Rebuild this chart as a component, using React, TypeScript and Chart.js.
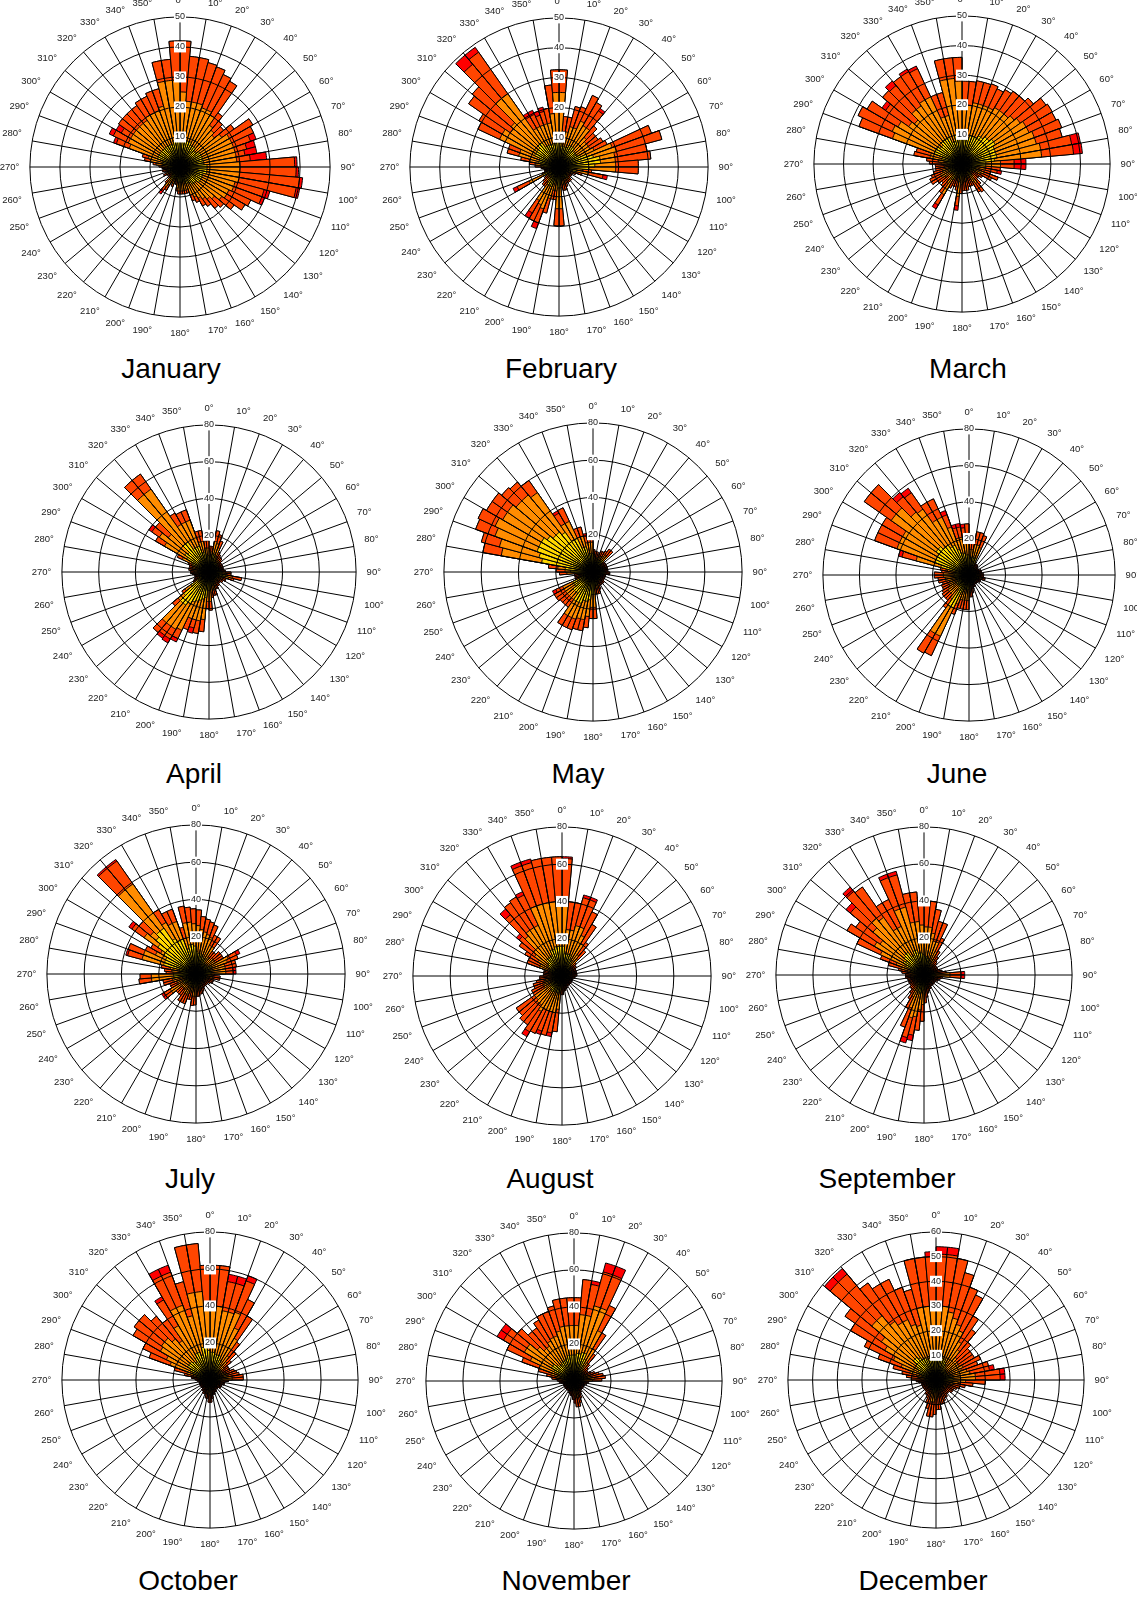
import React, { useEffect, useRef } from "react";
import { Chart, registerables } from "chart.js";

Chart.register(...registerables);

// Direction bins: each bin starts at the listed bearing and spans 5 degrees
const binStarts = [
  0, 5, 10, 15, 20, 25, 30, 35, 40, 45, 50, 55,
  60, 65, 70, 75, 80, 85, 90, 95, 100, 105, 110, 115,
  120, 125, 130, 135, 140, 145, 150, 155, 160, 165, 170, 175,
  180, 185, 190, 195, 200, 205, 210, 215, 220, 225, 230, 235,
  240, 245, 250, 255, 260, 265, 270, 275, 280, 285, 290, 295,
  300, 305, 310, 315, 320, 325, 330, 335, 340, 345, 350, 355,
];
const directionLabels = binStarts.map((d) => (d % 10 === 0 ? `${d}°` : ""));

const monthNames = [
  "January", "February", "March", "April", "May", "June",
  "July", "August", "September", "October", "November", "December",
];
const radialMax = [50, 50, 50, 80, 80, 80, 80, 80, 80, 80, 80, 60];
const radialStep = [10, 10, 10, 20, 20, 20, 20, 20, 20, 20, 20, 10];

// ---- January ----
const janTotal = [42,37,37,36,35.5,34,33,22,20,19,22,28, 27,27,26,26,29,39,39.5,41,40.5,31,30,26, 25,22,19,18,16,15,13,12,9,9,9,9, 9,8,6,5,7,6,9,11,7,5,4,5, 6,4,5,6,5,6,7,9,12,13,23.6,26, 24.6,25,25,25,25,26,26,27,27,36,36,42];
const janOrange = [25,22,22,22,21,21,20,17,16,15,17,19, 19,19,19,19,19,20,20,20,20,19,19,18, 18,17,15,14,13,12,11,10,8,8,8,8, 8,7,5,4,6,5,7,8,6,4,3,4, 5,3,4,5,4,5,6,8,10,11,18,19, 19,19,19,19,19,20,20,20,21,29,29,29];
const janYellow = [9,9,9,9,9,8,8,8,7,7,8,8, 8,8,8,8,8,9,9,9,9,8,8,8, 8,8,7,7,7,6,6,6,5,5,5,5, 5,5,4,3,4,4,5,5,4,3,3,3, 4,3,3,4,3,4,4,5,6,6,8,8, 8,8,8,8,8,8,8,8,8,9,9,9];
const janRed = [0,0,0,0,0,0,0,0,0,0,0,0, 0,2,3,4,5.5,0.8,0.8,1,1.2,2,1,0, 0,0,0,0,0,0,0,0,0,0,0,0, 0,0,0,0,0,0,0,1.5,0,0,0,0, 0,0,0,0,0,0,0,0,0,0,1,1.5, 2,0,0,0,0,0,0,0,0,0,0,0];

// ---- February ----
const febTotal = [32.6,17,17,21,21.5,26.5,25,24,18,16,16,17, 17.8,33,35.7,30,30.9,26.6,26.6,11,16.5,8,6,5, 5,5,5,6,6,6,6,7,8,8,7,19.7, 19.7,11,11,16,22,20,19.8,8,8,7,6,5, 17,6,5,5,5,6,8,10,13,18,18,30, 31,37,38,49,49,21,21,20,20.8,20,27.6,32.6];
const febOrange = [25,12,12,14,14,17,16,16,13,12,12,12, 13,19,20,19,19,19,19,8,10,6,5,4, 4,4,4,5,5,5,5,5,6,6,5,14, 14,8,8,11,15,14,13,6,6,5,5,4, 11,5,4,4,4,5,6,8,10,14,14,22, 22,20,21,30,30,15,15,15,15,15,18,25];
const febYellow = [8,7,7,7,7,8,8,8,7,7,7,7, 8,10,12,14,14,12,10,5,6,4,4,3, 3,3,3,4,4,4,4,4,4,4,4,7, 7,5,5,6,7,7,7,4,4,4,4,3, 6,4,3,3,3,4,5,6,7,7,7,9, 9,9,9,10,10,8,8,8,8,8,8,9];
const febRed = [0,0,0,0,0,0,0,1,0,0,0,0, 0,0,0,0,0,0,0,0,1.5,0,0,0, 0,0,0,0,0,0,0,0,0,0,0,0, 0,0,0,0,2,0,2,0,0,0,0,0, 1.5,0,0,0,0,0,0,0,0,0,0,0, 0,0,0,4,2,1.5,1.5,1.5,1.5,0,0,0];

// ---- March ----
const marTotal = [28,28,28.5,28.5,28.8,28,29,30,30,31.5,34.6,35.2, 35,35.8,35,40.6,40.8,21.6,21.6,13,13.6,10,13,11, 8,7,7,9,11.5,11,8,8,8,9,9,9, 10,15.7,9,8,8,9,17.5,12,10,9,10,12, 12,11,10,9,9,9,11,12,16.5,16,37,38.7, 37,33,35,36.6,36,37,36.5,25,25,36,36,36];
const marOrange = [20,20,21,21,21,21,22,22,22,23,24,25, 25,26,26,27,27,13,13,8,8,6,8,7, 5,4,4,6,8,7,5,5,5,6,6,6, 7,11,6,5,5,6,12,8,7,6,7,8, 8,7,7,6,6,6,7,8,11,11,25,26, 25,22,21,24,24,25,25,17,17,29,29,28];
const marYellow = [9,9,9,10,10,10,11,11,12,12,13,13, 12,12,12,12,11,8,8,5,5,4,5,4, 3,3,3,4,5,4,3,3,3,4,4,4, 4,6,4,3,3,4,6,4,4,4,4,5, 5,5,4,4,4,4,5,5,7,7,10,10, 10,9,9,10,10,10,10,8,8,10,10,9];
const marRed = [0,0,0,0,0,0,0,0,0,0,0,0, 0,0,0,3,3,4,4,0,1.5,0,0,0, 0,0,0,0,0,0,0,0,0,0,0,0, 0,1.5,0,0,0,0,1.5,0,0,0,0,0, 0,0,0,0,0,0,0,0,0,0,0,0, 0,1.5,0,2,0,1,1,0,0,0,0,0];

// ---- April ----
const aprTotal = [14,14,22.8,21,18,12,11,10,10,9,8,8, 8,8,8,8,8,9,12,12,18,14,10,10, 9,9,8,8,9,9,10,10,13,13,14,20.8, 20,32.6,34,34.5,33.4,42,44.6,44,43,26,18,10, 9,8,8,8,9,10,10,11,11,11,12,19, 33.6,40,38,65,65,37,36,36,23,23,17,17];
const aprOrange = [11,11,17,16,14,9,8,8,8,7,6,6, 6,6,6,6,6,7,9,9,13,11,8,8, 7,7,6,6,7,7,8,8,10,10,11,16, 16,26,27,27,27,35,36,36,36,22,16,8, 7,6,6,6,7,8,8,9,9,9,10,16, 28,33,29,55,55,30,30,30,17,17,13,13];
const aprYellow = [8,8,10,10,9,7,6,6,6,5,5,5, 5,5,5,5,5,5,7,7,9,8,6,6, 5,5,5,5,5,5,6,6,7,7,8,10, 10,14,15,16,17,18,20,22,22,18,12,6, 5,5,5,5,5,6,6,6,6,6,7,10, 14,16,15,20,20,15,15,15,11,11,9,9];
const aprRed = [0,0,0,0,0,0,0,0,0,0,0,0, 0,0,0,0,0,0,0,0,0,0,0,0, 0,0,0,0,0,0,0,0,0,0,0,0, 0,0,0,3,0,2,2.5,2,0,0,0,0, 0,0,0,0,0,0,0,0,0,0,0,0, 0,2,0,0,0,0,0,0,0,0,0,0];

// ---- May ----
const mayTotal = [12,11,11,10,12,12,13,15,15,8,8,8, 8,8,8,8,8,8,9,9,7,7,7,7, 7,7,8,8,8,8,8,10,12,12,12,25, 25,30,32,32,33,33,33,23,23,23,24,24, 24,10,10,10,10,18,19.7,24,60,62,67,68, 66,66,64,63,60,38,38,25,25,21,21,21];
const mayOrange = [9,8,8,8,9,9,10,11,11,6,6,6, 6,6,6,6,6,6,7,7,5,5,5,5, 5,5,6,6,6,6,6,8,9,9,9,19, 19,24,26,26,27,27,27,18,18,18,18,18, 18,8,8,8,8,14,15,19,50,52,56,58, 56,56,54,54,52,30,30,20,20,16,16,16];
const mayYellow = [7,6,6,6,7,7,7,8,8,5,5,5, 5,5,5,5,5,5,6,6,4,4,4,4, 4,4,5,5,5,5,5,6,7,7,7,12, 12,15,16,16,18,18,18,14,14,14,12,12, 12,6,6,6,6,10,12,15,28,30,32,32, 32,30,28,28,26,20,20,14,14,10,10,10];
const mayRed = [0,0,0,0,0,0,0,0,0,0,0,0, 0,0,0,0,0,0,0,0,0,0,0,0, 0,0,0,0,0,0,0,0,0,0,0,0, 0,0,0,0,0,0,0,0,0,0,0,0, 2,0,0,0,0,0,0,0,0,0,0,0, 0,0,0,0,0,1.5,0,0,0,1.5,1.5,2];

// ---- June ----
const junTotal = [20,20,24,24,23,8,7,7,7,6,6,6, 6,7,7,7,7,8,8,8,9,9,7,7, 7,6,6,6,6,6,7,7,8,10,12,12, 19,19,19,19,23,48.7,49.5,22,18,18,18,17, 16,16,15,17,17,19,19,15,16,40,55,55, 55,70,70,59,58,46,46,37.6,28.7,28.7,28,28];
const junOrange = [14,14,17,17,16,6,5,5,5,5,5,5, 5,5,5,5,5,6,6,6,7,7,5,5, 5,5,5,5,5,5,5,5,6,7,9,9, 14,14,14,14,17,37,37,16,14,14,14,13, 12,12,11,13,13,14,14,11,12,30,42,42, 42,52,52,45,44,35,35,28,21,21,20,20];
const junYellow = [9,9,10,10,10,4,4,4,4,4,4,4, 4,4,4,4,4,4,4,4,5,5,4,4, 4,4,4,4,4,4,4,4,4,5,6,6, 8,8,8,8,10,20,20,9,8,8,8,8, 7,7,7,8,8,8,8,7,7,16,20,20, 20,22,22,20,20,18,18,15,12,12,11,11];
const junRed = [0,0,0,0,0,0,0,0,0,0,0,0, 0,0,0,0,0,0,0,0,0,0,0,0, 0,0,0,0,0,0,0,0,0,0,0,0, 0,0,0,0,0,0,0,0,0,0,0,0, 0,0,0,0,0,0,0,0,0,2,0,0, 0,0,0,3,3,0,0,2.5,2,2,2,0];

// ---- July ----
const julTotal = [34.4,31,30,29,28,23,23,15,15,17,17,17, 26,24,22,22,21.5,21.5,10,13,13,10,10,10, 9,8,8,8,8,8,9,10,11,11,12,12, 16.6,17,14,14,17,17,17,14,14,14,21.3,21.3, 15,15,18,18,30.7,30,16,17,19,39,38.7,30, 28,44,40,75,75,40,37,37,26,37,36,35];
const julOrange = [26,24,23,22,21,17,17,11,11,12,12,12, 19,18,16,16,16,16,8,9,9,7,7,7, 7,6,6,6,6,6,7,8,8,8,9,9, 12,12,10,10,12,12,12,10,10,10,16,16, 11,11,13,13,24,24,12,13,14,30,30,24, 22,34,32,59,59,32,30,30,20,28,28,27];
const julYellow = [12,11,11,10,10,9,9,7,7,7,7,7, 9,9,8,8,8,8,5,6,6,5,5,5, 5,4,4,4,4,4,5,5,5,5,6,6, 7,7,6,6,7,7,7,6,6,6,8,8, 6,6,7,7,12,12,7,8,9,18,18,18, 20,25,28,30,30,22,20,20,14,16,16,15];
const julRed = [0,0,0,0,0,0,0,0,0,0,0,0, 2,0,0,0,1.5,1.5,0,0,0,0,0,0, 0,0,0,0,0,0,0,0,0,0,0,0, 0,0,0,0,0,0,0,0,0,0,1.5,1.5, 0,0,0,0,0,0,0,0,0,1,0,0, 0,2,0,1,1,0,0,0,0,0,0,0];

// ---- August ----
const augTotal = [64,40,40,45,45,38,32,22,18,10,9,9, 8,8,8,8,8,8,7,7,6,6,6,6, 6,6,6,6,6,6,6,7,7,8,8,10, 10,30,33,33,33.5,34,37.6,32,32,30,30,18, 18,16,16,14,12,12,10,10,10,10,20,20, 23,28,32,47,48,49,50,65,65,64,64,64];
const augOrange = [40,25,25,28,28,24,20,14,12,7,6,6, 5,5,5,5,5,5,5,5,4,4,4,4, 4,4,4,4,4,4,4,5,5,5,5,7, 7,18,20,20,20,20,22,19,19,18,18,11, 11,10,10,9,8,8,7,7,7,7,13,13, 15,18,20,28,30,30,30,40,40,40,40,40];
const augYellow = [16,12,12,12,12,10,9,7,6,5,4,4, 4,4,4,4,4,4,3,3,3,3,3,3, 3,3,3,3,3,3,3,4,4,4,4,5, 5,8,9,9,9,9,10,9,9,8,8,6, 6,5,5,5,5,5,4,4,4,4,7,7, 8,9,10,12,12,12,12,15,15,16,16,16];
const augRed = [1,0,0,1.5,1.5,0,0,0,0,0,0,0, 0,0,0,0,0,0,0,0,0,0,0,0, 0,0,0,0,0,0,0,0,0,0,0,0, 0,0,2,0,2,0,3,0,0,0,0,0, 0,0,0,0,0,0,0,0,0,0,0,0, 0,0,2,4,0,0,2,2,2,0,0,0];

// ---- September ----
const sepTotal = [40,40,36,30,30,22,15,12,10,9,8,8, 8,8,9,10,12,22,22,10,9,8,8,7, 7,7,7,7,7,7,8,8,9,10,12,15, 25,30,36,38,30,20,15,12,10,10,9,9, 9,9,9,9,10,10,10,12,14,20,25,40, 48,45,55,62,58,45,45,58,58,45,45,42];
const sepOrange = [26,26,23,19,19,14,10,8,7,6,5,5, 5,5,6,7,8,14,14,7,6,5,5,5, 5,5,5,5,5,5,5,5,6,7,8,10, 16,19,23,24,19,13,10,8,7,7,6,6, 6,6,6,6,7,7,7,8,9,13,16,26, 31,29,36,40,38,29,29,38,38,29,29,27];
const sepYellow = [10,10,9,8,8,6,5,4,4,4,3,3, 3,3,4,4,5,6,6,4,4,3,3,3, 3,3,3,3,3,3,3,3,4,4,5,6, 8,9,10,10,9,7,6,5,4,4,4,4, 4,4,4,4,4,4,4,5,6,7,8,11, 13,12,14,15,15,12,12,14,14,12,12,11];
const sepRed = [0,0,0,0,0,0,0,0,0,0,0,0, 0,0,0,0,0,2,2,0,0,0,0,0, 0,0,0,0,0,0,0,0,0,0,0,0, 0,0,3,3,0,0,0,0,0,0,0,0, 0,0,0,0,0,0,0,0,0,0,0,0, 0,0,3,3,0,0,0,2,2,0,0,0];

// ---- October ----
const octTotal = [62,62,58,58,60,48,40,25,20,15,12,12, 12,14,15,16,18,18,10,8,8,8,7,7, 7,7,6,6,6,6,7,7,8,8,10,12, 12,10,10,8,8,8,7,7,6,6,6,6, 6,6,6,6,6,7,8,10,14,20,35,40, 48,50,50,45,40,52,66,66,55,74,74,62];
const octOrange = [40,40,38,38,39,31,26,16,13,10,8,8, 8,9,10,10,12,12,7,5,5,5,5,5, 5,5,4,4,4,4,5,5,5,5,7,8, 8,7,7,5,5,5,5,5,4,4,4,4, 4,4,4,4,4,5,5,7,9,13,23,26, 31,32,32,29,26,34,43,43,36,48,48,40];
const octYellow = [15,15,14,14,14,12,10,8,7,6,5,5, 5,5,6,6,6,6,4,3,3,3,3,3, 3,3,3,3,3,3,3,3,4,4,4,5, 5,4,4,4,4,4,3,3,3,3,3,3, 3,3,3,3,3,3,4,4,5,7,10,12, 14,14,14,13,12,14,16,16,14,18,18,16];
const octRed = [0,0,4,4,3,0,0,0,0,0,0,0, 0,0,0,0,0,0,0,0,0,0,0,0, 0,0,0,0,0,0,0,0,0,0,0,0, 0,0,0,0,0,0,0,0,0,0,0,0, 0,0,0,0,0,0,0,0,0,0,0,0, 0,0,0,0,0,2,4,4,0,0,0,0];

// ---- November ----
const novTotal = [45,55,55,66,66,45,30,18,12,10,9,9, 10,12,14,16,17,15,8,7,7,6,6,6, 6,6,6,6,6,7,8,10,12,14,14,12, 10,8,8,7,7,6,6,6,6,6,6,6, 6,6,6,6,7,8,9,12,15,20,30,40, 48,48,40,35,35,38,40,40,42,45,45,45];
const novOrange = [30,36,36,42,42,30,20,12,8,7,6,6, 7,8,9,10,11,10,5,5,5,4,4,4, 4,4,4,4,4,5,5,7,8,9,9,8, 7,5,5,5,5,4,4,4,4,4,4,4, 4,4,4,4,5,5,6,8,10,13,20,26, 31,31,26,23,23,25,26,26,28,30,30,30];
const novYellow = [14,15,15,16,16,13,9,6,5,4,4,4, 4,5,5,5,5,5,3,3,3,3,3,3, 3,3,3,3,3,3,3,4,5,5,5,5, 4,3,3,3,3,3,3,3,3,3,3,3, 3,3,3,3,3,3,4,5,6,7,9,12, 14,14,12,11,11,12,12,12,13,14,14,14];
const novRed = [0,0,2,5,5,0,0,0,0,0,0,0, 0,0,0,0,0,0,0,0,0,0,0,0, 0,0,0,0,0,0,0,0,0,0,0,2, 0,0,0,0,0,0,0,0,0,0,0,0, 0,0,0,0,0,0,0,0,0,0,0,0, 4,4,0,0,0,0,0,0,0,0,0,0];

// ---- December ----
const decTotal = [54,54,50,45,40,38,30,25,20,18,18,18, 20,18,22,24,28,28,20,15,12,10,9,8, 8,8,7,7,7,8,8,9,10,10,12,12, 14,15,15,12,10,8,7,7,6,6,6,6, 6,6,6,6,7,8,10,12,14,18,25,32, 40,45,59,59,48,45,45,40,38,50,50,52];
const decOrange = [30,30,28,26,24,22,18,15,12,11,11,11, 12,11,13,14,16,16,12,9,7,6,5,5, 5,5,4,4,4,5,5,5,6,6,7,7, 8,9,9,7,6,5,4,4,4,4,4,4, 4,4,4,4,4,5,6,7,8,11,15,19, 24,27,34,34,29,27,27,24,23,30,30,31];
const decYellow = [10,10,10,9,9,8,7,6,5,5,5,5, 5,5,6,6,7,7,5,4,4,3,3,3, 3,3,3,3,3,3,3,3,4,4,4,4, 5,5,5,4,4,3,3,3,3,3,3,3, 3,3,3,3,3,3,4,4,5,6,7,8, 9,10,12,12,11,10,10,9,9,10,10,10];
const decRed = [3,3,0,0,0,0,0,0,0,0,0,0, 0,0,0,2,2,2,0,0,0,0,0,0, 0,0,0,0,0,0,0,0,0,0,0,0, 0,0,0,0,0,0,0,0,0,0,0,0, 0,0,0,0,0,0,0,0,0,0,0,0, 0,0,3,3,0,0,0,0,0,0,0,2];

const monthTotals = [janTotal, febTotal, marTotal, aprTotal, mayTotal, junTotal, julTotal, augTotal, sepTotal, octTotal, novTotal, decTotal];
const monthOranges = [janOrange, febOrange, marOrange, aprOrange, mayOrange, junOrange, julOrange, augOrange, sepOrange, octOrange, novOrange, decOrange];
const monthYellows = [janYellow, febYellow, marYellow, aprYellow, mayYellow, junYellow, julYellow, augYellow, sepYellow, octYellow, novYellow, decYellow];
const monthReds = [janRed, febRed, marRed, aprRed, mayRed, junRed, julRed, augRed, sepRed, octRed, novRed, decRed];

// ---- Layout (page pixels) ----
const roseLayout = [
  { cx: 179, cy: 167, r: 150, tx: 171, ty: 369 },
  { cx: 558, cy: 167, r: 149, tx: 561, ty: 369 },
  { cx: 961, cy: 164, r: 148, tx: 968, ty: 369 },
  { cx: 208, cy: 572, r: 147, tx: 194, ty: 774 },
  { cx: 592, cy: 572, r: 149, tx: 578, ty: 774 },
  { cx: 968, cy: 575, r: 146, tx: 957, ty: 774 },
  { cx: 195, cy: 974, r: 149, tx: 190, ty: 1179 },
  { cx: 561, cy: 976, r: 149, tx: 550, ty: 1179 },
  { cx: 923, cy: 975, r: 148, tx: 887, ty: 1179 },
  { cx: 209, cy: 1380, r: 148, tx: 188, ty: 1581 },
  { cx: 573, cy: 1381, r: 148, tx: 566, ty: 1581 },
  { cx: 935, cy: 1380, r: 148, tx: 923, ty: 1581 },
];

const FONT = "'Liberation Sans', Arial, Helvetica, sans-serif";
const COLORS = { yellow: "#FFD700", orange: "#FF8C00", orangeRed: "#FF4500", red: "#FF0000" };

function Rose({ idx }: { idx: number }) {
  const ref = useRef<HTMLCanvasElement | null>(null);
  const L = roseLayout[idx];
  const H = Math.round(2 * (L.r + 16.4) + 11);
  const W = H + 40;
  useEffect(() => {
    const total = monthTotals[idx];
    const upper = total.map((t, i) => t - monthReds[idx][i]);
    const orange = monthOranges[idx].map((v, i) => Math.min(v, upper[i]));
    const yellow = monthYellows[idx].map((v, i) => Math.min(v, orange[i]));
    const ds = (data: number[], color: string) => ({
      data,
      backgroundColor: color,
      borderColor: "#000",
      borderWidth: 1,
    });
    const chart = new Chart(ref.current as HTMLCanvasElement, {
      type: "polarArea",
      data: {
        labels: directionLabels,
        datasets: [
          ds(yellow, COLORS.yellow),
          ds(orange, COLORS.orange),
          ds(upper, COLORS.orangeRed),
          ds(total, COLORS.red),
        ],
      },
      options: {
        responsive: false,
        animation: false,
        devicePixelRatio: 1,
        plugins: { legend: { display: false }, tooltip: { enabled: false } },
        scales: {
          r: {
            type: "radialLinear",
            min: 0,
            max: radialMax[idx],
            startAngle: 0,
            ticks: {
              stepSize: radialStep[idx],
              z: 2,
              color: "#222",
              font: { size: 9, family: FONT },
              showLabelBackdrop: true,
              backdropColor: "#fff",
              backdropPadding: 1,
            },
            grid: { circular: true, color: "#000", lineWidth: 1, z: 1 },
            angleLines: {
              display: true,
              color: "#000",
              lineWidth: (c: any) => (c.index % 2 === 0 ? 1 : 0),
            },
            pointLabels: {
              display: true,
              font: { size: 9.5, family: FONT },
              color: "#222",
              padding: 5,
            },
          },
        },
      } as any,
    });
    return () => chart.destroy();
  }, [idx]);
  return (
    <canvas
      ref={ref}
      width={W}
      height={H}
      style={{ position: "absolute", left: L.cx - W / 2, top: L.cy - H / 2, width: W, height: H }}
    />
  );
}

export default function App() {
  return (
    <div style={{ position: "absolute", left: 0, top: 0, width: 1137, height: 1597, background: "#fff", overflow: "hidden" }}>
      {monthNames.map((name, i) => (
        <Rose key={name} idx={i} />
      ))}
      {monthNames.map((name, i) => (
        <div
          key={"t" + name}
          style={{
            position: "absolute",
            left: roseLayout[i].tx,
            top: roseLayout[i].ty,
            transform: "translate(-50%, -50%)",
            fontFamily: FONT,
            fontSize: 28,
            lineHeight: 1,
            color: "#000",
            whiteSpace: "nowrap",
          }}
        >
          {name}
        </div>
      ))}
    </div>
  );
}
